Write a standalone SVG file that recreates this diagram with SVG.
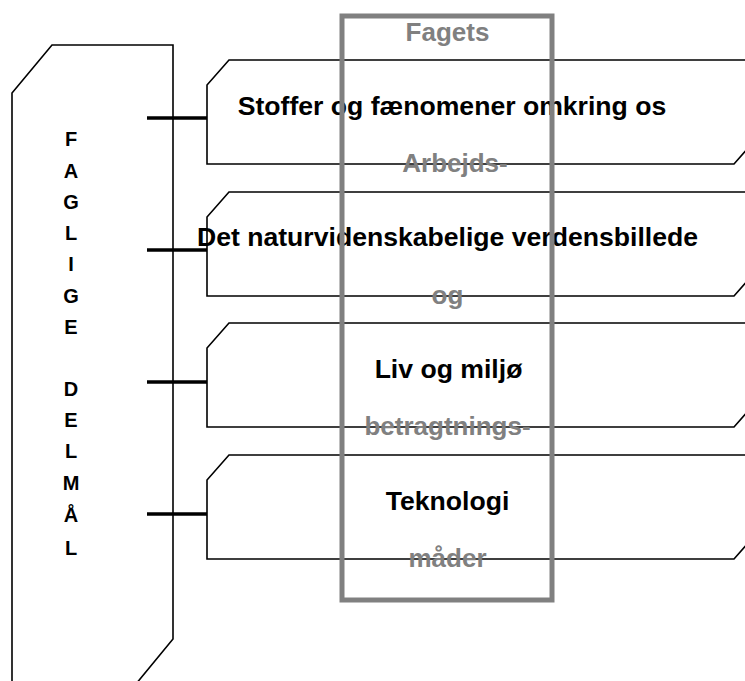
<svg xmlns="http://www.w3.org/2000/svg" width="745" height="681" viewBox="0 0 745 681">
<style>
.ln{fill:none;stroke:#000;stroke-width:1.6}
.conn{stroke:#000;stroke-width:3.5;fill:none}
.frame{fill:none;stroke:#808080;stroke-width:5}
.t{font-family:"Liberation Sans",Arial,Helvetica,sans-serif;font-weight:bold;font-size:26.6px;fill:#000;text-anchor:middle}
.g{font-family:"Liberation Sans",Arial,Helvetica,sans-serif;font-weight:bold;font-size:26px;fill:#808080;text-anchor:middle}
.v{font-family:"Liberation Sans",Arial,Helvetica,sans-serif;font-weight:bold;font-size:20px;fill:#000;text-anchor:middle}
</style>
<rect width="745" height="681" fill="#fff"/>
<g id="faglige-delmaal">
<path class="ln" d="M12,690 V93 L52,45 H173 V639 L131,690"/>
<text class="v" x="71" y="146">F</text>
<text class="v" x="71" y="178">A</text>
<text class="v" x="71" y="209">G</text>
<text class="v" x="71" y="240">L</text>
<text class="v" x="71" y="271">I</text>
<text class="v" x="71" y="303">G</text>
<text class="v" x="71" y="334">E</text>
<text class="v" x="71" y="396">D</text>
<text class="v" x="71" y="427">E</text>
<text class="v" x="71" y="458">L</text>
<text class="v" x="71" y="490">M</text>
<text class="v" x="71" y="522">Å</text>
<text class="v" x="71" y="555" font-weight="normal">L</text>
</g>
<g id="connectors">
<line class="conn" x1="147" y1="118" x2="207" y2="118"/>
<line class="conn" x1="147" y1="250" x2="207" y2="250"/>
<line class="conn" x1="147" y1="382" x2="207" y2="382"/>
<line class="conn" x1="147" y1="514" x2="207" y2="514"/>
</g>
<g id="box-stoffer">
<path class="ln" d="M760,60 H229 L207,85 V164 H734 L756,139"/>
<text class="t" x="452" y="115">Stoffer og fænomener omkring os</text>
</g>
<g id="box-verdensbillede">
<path class="ln" d="M760,192 H229 L207,217 V296 H734 L756,271"/>
<text class="t" x="447.5" y="246">Det naturvidenskabelige verdensbillede</text>
</g>
<g id="box-liv">
<path class="ln" d="M760,323 H229 L207,348 V427 H734 L756,402"/>
<text class="t" x="448.5" y="378">Liv og miljø</text>
</g>
<g id="box-teknologi">
<path class="ln" d="M760,455 H229 L207,480 V559 H734 L756,534"/>
<text class="t" x="447.5" y="510">Teknologi</text>
</g>
<g id="arbejdsmaader">
<text class="g" x="447.5" y="41">Fagets</text>
<text class="g" x="455" y="172">Arbejds-</text>
<text class="g" x="447.5" y="304">og</text>
<text class="g" x="447.5" y="435">betragtnings-</text>
<text class="g" x="447.5" y="567">måder</text>
<rect class="frame" x="342" y="16" width="210" height="584"/>
</g>
</svg>
